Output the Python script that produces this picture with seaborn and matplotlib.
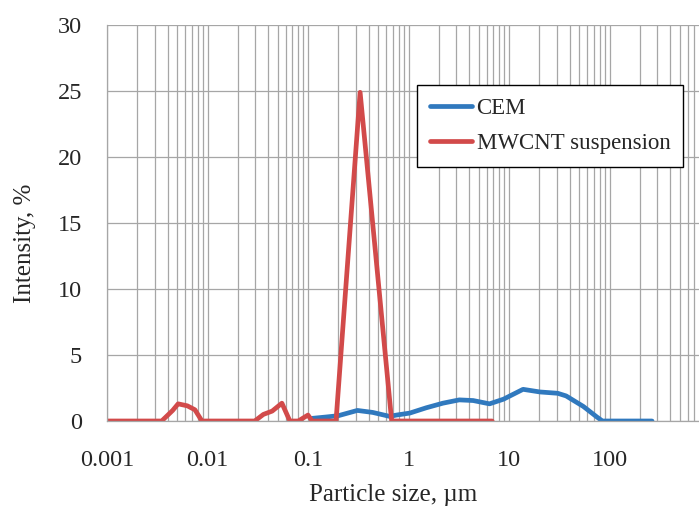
import numpy as np
import pandas as pd
import matplotlib
matplotlib.use("Agg")
import matplotlib.pyplot as plt
from matplotlib.ticker import LogLocator, NullFormatter
import seaborn as sns

# ---- data ----
cem_size = [0.11, 0.15, 0.2, 0.31, 0.44, 0.65, 0.76, 1.03, 1.5, 2.2, 3.2, 4.4,
            6.4, 8.8, 13.8, 20.3, 30.5, 37, 55, 75, 85, 265]
cem_int = [0.2, 0.3, 0.4, 0.8, 0.65, 0.35, 0.45, 0.6, 1.0, 1.35, 1.6, 1.55,
           1.3, 1.65, 2.4, 2.2, 2.1, 1.9, 1.1, 0.3, 0.0, 0.0]

mw_size = [0.001, 0.0035, 0.0045, 0.0051, 0.0063, 0.0075, 0.0088, 0.0295, 0.036,
           0.044, 0.055, 0.066, 0.08, 0.1, 0.11, 0.19, 0.33, 0.68, 6.8]
mw_int = [0.0, 0.0, 0.8, 1.3, 1.15, 0.85, 0.0, 0.0, 0.5, 0.75, 1.35, 0.0, 0.0,
          0.45, 0.0, 0.0, 24.9, 0.0, 0.0]

series_names = ["CEM", "MWCNT suspension"]
series_colors = ["#3079be", "#d24a4a"]
x_ticks = [0.001, 0.01, 0.1, 1, 10, 100]
x_tick_labels = ["0.001", "0.01", "0.1", "1", "10", "100"]
y_ticks = [0, 5, 10, 15, 20, 25, 30]

df = pd.DataFrame({
    "size": cem_size + mw_size,
    "intensity": cem_int + mw_int,
    "series": [series_names[0]] * len(cem_size) + [series_names[1]] * len(mw_size),
})

sns.set_style("white")
plt.rcParams["font.family"] = ["Liberation Serif", "DejaVu Serif"]

fig = plt.figure(figsize=(6.99, 5.08), dpi=100)
W, H = 699, 508
left, right, top, bottom = 107, 710, 25, 421
ax = fig.add_axes([left / W, (H - bottom) / H, (right - left) / W, (bottom - top) / H])

lw = 3.4
sns.lineplot(data=df, x="size", y="intensity", hue="series", hue_order=series_names,
             palette=series_colors, linewidth=lw, ax=ax, sort=False, estimator=None)

ax.set_xscale("log")
ax.set_xlim(0.001, 1000)
ax.set_ylim(0, 30)

ax.set_xticks(x_ticks + [1000])
ax.set_xticklabels(x_tick_labels + [""])
ax.xaxis.set_minor_locator(LogLocator(base=10, subs=np.arange(2, 10), numticks=20))
ax.xaxis.set_minor_formatter(NullFormatter())
ax.set_yticks(y_ticks)
ax.set_yticklabels([str(v) for v in y_ticks])

gcol = "#a6a6a6"
ax.grid(True, which="major", axis="both", color=gcol, linewidth=0.9)
ax.grid(True, which="minor", axis="x", color=gcol, linewidth=0.9)
ax.set_axisbelow(True)

ax.tick_params(axis="x", which="major", direction="out", length=6, width=0.9,
               color=gcol, labelsize=17.5, pad=15)
ax.tick_params(axis="x", which="minor", length=0)
ax.tick_params(axis="y", which="major", length=0, labelsize=17.5, pad=18)

for s in ["top", "right"]:
    ax.spines[s].set_visible(False)
for s in ["left", "bottom"]:
    ax.spines[s].set_color(gcol)
    ax.spines[s].set_linewidth(0.9)

ax.set_xlabel("Particle size, µm", fontsize=18)
ax.set_ylabel("Intensity, %", fontsize=18)
ax.xaxis.set_label_coords((393 - left) / (right - left), -(495 - bottom) / (bottom - top),
                          transform=ax.transAxes)
ax.xaxis.label.set_va("center")
ax.yaxis.set_label_coords(-(left - 25) / (right - left), (bottom - 243) / (bottom - top),
                          transform=ax.transAxes)
ax.yaxis.label.set_va("center")

leg = ax.legend(loc="upper left",
                bbox_to_anchor=((417 - left) / (right - left), (bottom - 85) / (bottom - top)),
                frameon=True, fancybox=False, framealpha=1, edgecolor="black",
                fontsize=16.5, handlelength=1.85, handletextpad=0.2, borderpad=0.55,
                labelspacing=0.62, borderaxespad=0, title=None)
leg.get_frame().set_linewidth(1.0)
for line in leg.get_lines():
    line.set_linewidth(lw)

fig.savefig("out.png", dpi=100)
